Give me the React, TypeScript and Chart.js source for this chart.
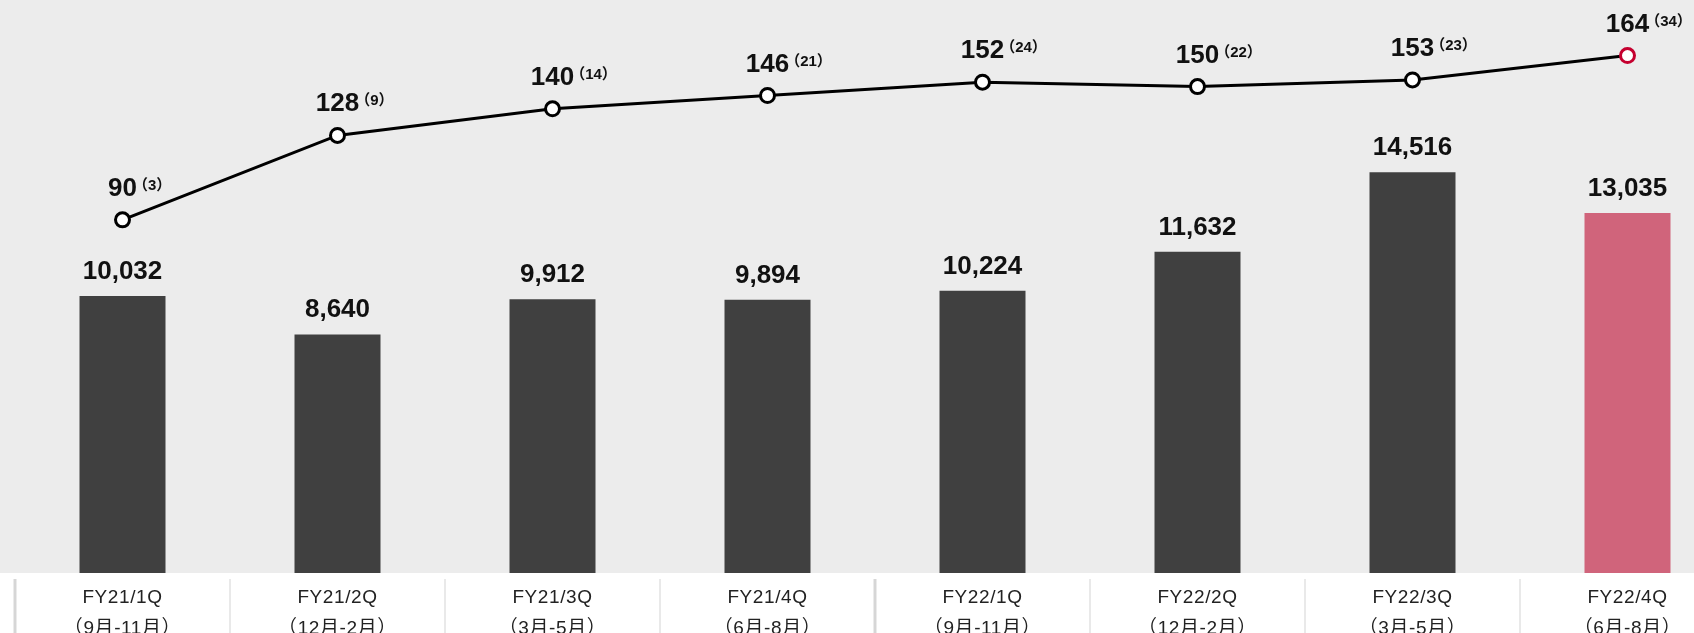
import React, { useEffect, useRef } from 'react';
import { Chart, registerables } from 'chart.js';

Chart.register(...registerables);

const categories: string[][] = [
  ['FY21/1Q', '（9月-11月）'],
  ['FY21/2Q', '（12月-2月）'],
  ['FY21/3Q', '（3月-5月）'],
  ['FY21/4Q', '（6月-8月）'],
  ['FY22/1Q', '（9月-11月）'],
  ['FY22/2Q', '（12月-2月）'],
  ['FY22/3Q', '（3月-5月）'],
  ['FY22/4Q', '（6月-8月）'],
];
const barValues = [10032, 8640, 9912, 9894, 10224, 11632, 14516, 13035];
const lineValues = [90, 128, 140, 146, 152, 150, 153, 164];
const lineIncrease = [3, 9, 14, 21, 24, 22, 23, 34];
const barColors = ['#404040', '#404040', '#404040', '#404040', '#404040', '#404040', '#404040', '#d0647b'];
const pointBorderColors = ['#000', '#000', '#000', '#000', '#000', '#000', '#000', '#c5002f'];
const fyStartIndexes = [0, 4];

const CANVAS_W = 1735;
const CANVAS_H = 660;
const AXIS_H = 87;

const bgPlugin = {
  id: 'bgPlugin',
  beforeDraw(chart: any) {
    const { ctx, chartArea } = chart;
    ctx.save();
    ctx.fillStyle = '#ffffff';
    ctx.fillRect(0, 0, chart.width, chart.height);
    ctx.fillStyle = '#ececec';
    ctx.fillRect(0, 0, chart.width, chartArea.bottom);
    ctx.restore();
    (ctx as any).letterSpacing = '0.6px';
  },
  beforeDatasetsDraw(chart: any) {
    (chart.ctx as any).letterSpacing = '0px';
  },
};

const labelPlugin = {
  id: 'labelPlugin',
  afterDatasetsDraw(chart: any) {
    const { ctx } = chart;
    ctx.save();
    (ctx as any).letterSpacing = '0px';
    ctx.fillStyle = '#111';
    ctx.textAlign = 'center';
    ctx.textBaseline = 'alphabetic';
    const barMeta = chart.getDatasetMeta(0);
    ctx.font = "bold 26px 'Liberation Sans', Arial, sans-serif";
    barMeta.data.forEach((el: any, i: number) => {
      ctx.fillText(barValues[i].toLocaleString('en-US'), el.x, el.y - 17);
    });
    const lineMeta = chart.getDatasetMeta(1);
    lineMeta.data.forEach((el: any, i: number) => {
      const main = String(lineValues[i]);
      ctx.font = "bold 26px 'Liberation Sans', Arial, sans-serif";
      ctx.textAlign = 'center';
      const w = ctx.measureText(main).width;
      ctx.fillText(main, el.x, el.y - 24);
      ctx.font = "bold 15px 'Liberation Sans', 'Noto Sans CJK JP', sans-serif";
      ctx.textAlign = 'left';
      ctx.fillText('（' + lineIncrease[i] + '）', el.x + w / 2 - 4, el.y - 30);
    });
    ctx.restore();
  },
  afterDraw(chart: any) {
    const { ctx, chartArea } = chart;
    const xScale = chart.scales.x;
    const half = (xScale.getPixelForValue(1) - xScale.getPixelForValue(0)) / 2;
    ctx.save();
    for (let i = 0; i < categories.length; i++) {
      const x = xScale.getPixelForValue(i) - half;
      const thick = fyStartIndexes.includes(i);
      ctx.strokeStyle = thick ? '#d6d6d6' : '#e9e9e9';
      ctx.lineWidth = thick ? 3 : 2;
      ctx.beginPath();
      ctx.moveTo(x, chartArea.bottom + 6);
      ctx.lineTo(x, chart.height);
      ctx.stroke();
    }
    ctx.restore();
  },
};

export default function App() {
  const ref = useRef<HTMLCanvasElement | null>(null);
  useEffect(() => {
    document.body.style.margin = '0';
    if (!ref.current) return;
    const chart = new Chart(ref.current, {
      type: 'bar',
      data: {
        labels: categories as any,
        datasets: [
          {
            type: 'bar',
            data: barValues,
            backgroundColor: barColors,
            borderWidth: 0,
            categoryPercentage: 1,
            barPercentage: 0.4,
            yAxisID: 'y',
            order: 2,
          },
          {
            type: 'line',
            data: lineValues,
            borderColor: '#000',
            borderWidth: 3,
            pointRadius: 7,
            pointBorderWidth: 3,
            pointBackgroundColor: '#fff',
            pointBorderColor: pointBorderColors,
            tension: 0,
            yAxisID: 'y1',
            order: 1,
          } as any,
        ],
      },
      options: {
        responsive: false,
        animation: false,
        devicePixelRatio: 1,
        layout: { autoPadding: false, padding: { left: 15, right: 0, top: 0, bottom: 0 } },
        plugins: { legend: { display: false }, tooltip: { enabled: false } },
        scales: {
          x: {
            grid: { display: false },
            border: { display: false },
            ticks: {
              autoSkip: false,
              maxRotation: 0,
              padding: 1,
              color: '#222',
              font: { family: "'Liberation Sans', 'Noto Sans CJK JP', sans-serif", size: 19, lineHeight: 1.65 },
            },
            afterFit: (scale: any) => {
              scale.height = AXIS_H;
            },
          },
          y: { display: false, min: 0, max: 20750 },
          y1: { display: false, min: -69, max: 189 },
        },
      } as any,
      plugins: [bgPlugin, labelPlugin],
    });
    return () => chart.destroy();
  }, []);
  return (
    <div style={{ position: 'absolute', left: 0, top: 0, width: 1694, height: 633, overflow: 'hidden' }}>
      <canvas ref={ref} width={CANVAS_W} height={CANVAS_H} style={{ width: CANVAS_W, height: CANVAS_H, display: 'block' }} />
    </div>
  );
}
